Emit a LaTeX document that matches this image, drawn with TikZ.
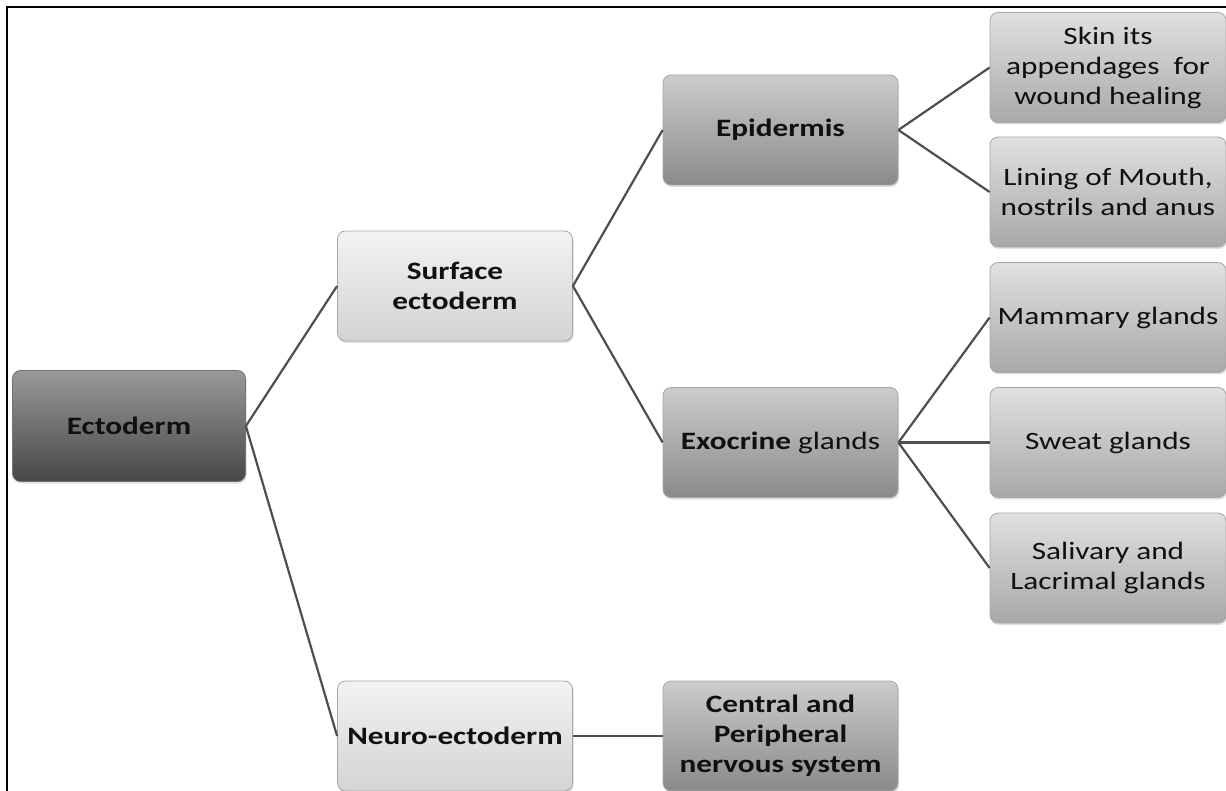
\documentclass[tikz,border=0pt]{standalone}
\usepackage{fontspec}
\setmainfont[FakeStretch=1.25]{Carlito}
\usetikzlibrary{shadows}
\definecolor{txt}{HTML}{101010}
\definecolor{edgecol}{HTML}{4E4E4E}
\tikzset{
  box/.style={rectangle, rounded corners=8pt, draw=gray!70, line width=0.8pt,
    minimum width=235pt, minimum height=110pt, inner sep=2pt, align=center,
    text=txt, font=\fontsize{25}{30}\selectfont,
    drop shadow={opacity=0.25, shadow xshift=1pt, shadow yshift=-2pt}},
  dark/.style={box, top color=black!40, bottom color=black!72, draw=black!55},
  light/.style={box, top color=black!5, bottom color=black!17},
  mid/.style={box, top color=black!20, bottom color=black!46},
  leaf/.style={box, top color=black!12, bottom color=black!34},
  conn/.style={draw=edgecol, line width=2.2pt},
}
\begin{document}
\begin{tikzpicture}[x=1pt, y=-1pt]
\useasboundingbox (0,0) rectangle (1226,791);
\draw[line width=2.2pt, black] (7,791) -- (7,7) -- (1226,7);

\node[dark, minimum width=233pt, minimum height=111pt] (ecto) at (129,426) {\bfseries Ectoderm};
\node[light] (surf) at (455,286) {\bfseries Surface\\\bfseries ectoderm};
\node[light] (neuro) at (455,736) {\bfseries Neuro-ectoderm};
\node[mid] (epi) at (780.5,130) {\bfseries Epidermis};
\node[mid] (exo) at (780.5,442.5) {{\bfseries Exocrine} glands};
\node[mid] (cns) at (780.5,736) {\bfseries Central and\\\bfseries Peripheral\\\bfseries nervous system};
\node[leaf, minimum width=236pt] (skin) at (1108,67.5) {Skin its\\appendages\ \ for\\wound healing};
\node[leaf, minimum width=236pt] (lining) at (1108,192) {Lining of Mouth,\\nostrils and anus};
\node[leaf, minimum width=236pt] (mam) at (1108,317.5) {Mammary glands};
\node[leaf, minimum width=236pt] (sweat) at (1108,442.5) {Sweat glands};
\node[leaf, minimum width=236pt] (saliv) at (1108,568) {Salivary and\\Lacrimal glands};

\draw[conn] (ecto.east) -- (surf.west);
\draw[conn] (ecto.east) -- (neuro.west);
\draw[conn] (surf.east) -- (epi.west);
\draw[conn] (surf.east) -- (exo.west);
\draw[conn] (neuro.east) -- (cns.west);
\draw[conn] (epi.east) -- (skin.west);
\draw[conn] (epi.east) -- (lining.west);
\draw[conn] (exo.east) -- (mam.west);
\draw[conn] (exo.east) -- (sweat.west);
\draw[conn] (exo.east) -- (saliv.west);
\end{tikzpicture}
\end{document}
